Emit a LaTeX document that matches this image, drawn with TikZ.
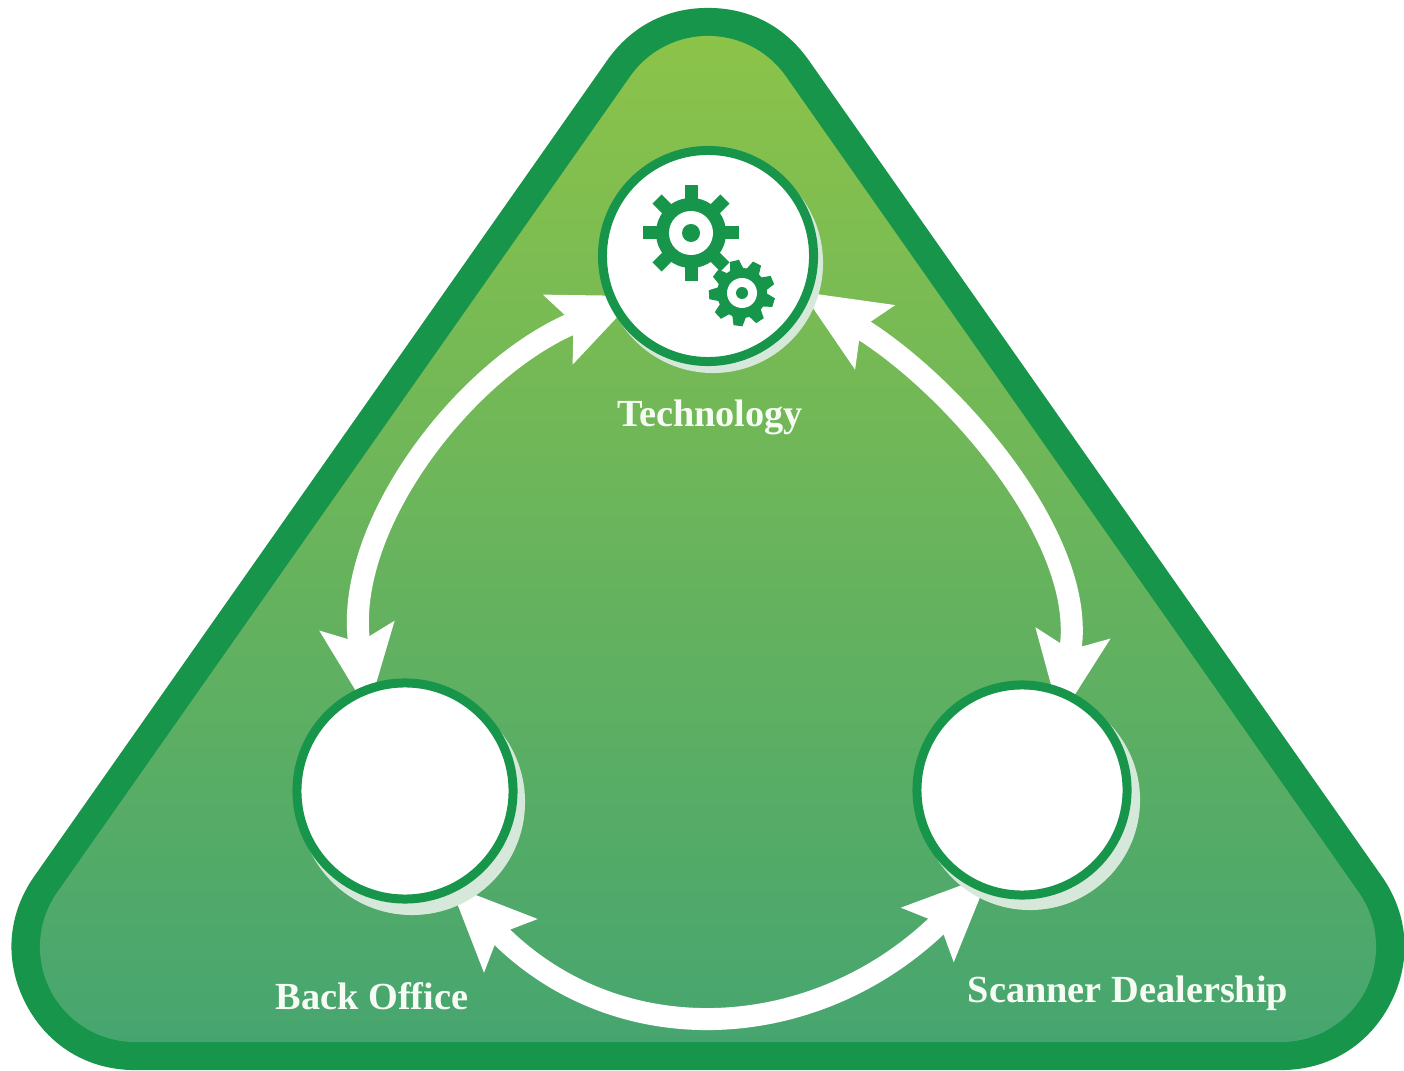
\documentclass[tikz,border=0pt]{standalone}
\usepackage{fontspec}
\setmainfont{Liberation Serif}
\usetikzlibrary{arrows.meta}
\definecolor{rimgreen}{HTML}{17954A}
\definecolor{topgreen}{HTML}{8CC349}
\definecolor{lowgreen}{HTML}{46A56F}
\definecolor{halo}{HTML}{D5E8DA}
\definecolor{labelwhite}{HTML}{F6FCF4}
\pgfdeclarelayer{bglayer}
\pgfdeclarelayer{arrowlayer}
\pgfsetlayers{bglayer,arrowlayer,main}
\tikzset{
  disc/.style={circle,draw=rimgreen,fill=white,line width=0.09cm,inner sep=0pt,outer sep=0pt},
  flow/.style={draw=white,line width=0.22cm,
    {Stealth[length=0.86cm,width=0.76cm,inset=0.17cm,line width=0pt]}-{Stealth[length=0.86cm,width=0.76cm,inset=0.17cm,line width=0pt]}},
  caption/.style={text=labelwhite,font=\fontsize{10.9pt}{13pt}\selectfont\bfseries,inner sep=0pt}
}
\begin{document}
\begin{tikzpicture}[x=0.01cm,y=-0.01cm]
\useasboundingbox (0,0) rectangle (1404,1071);
\begin{pgfonlayer}{bglayer}
  \fill[white] (0,0) rectangle (1404,1071);
  \draw[rimgreen,fill=rimgreen,line width=2.46cm,line join=round]
    (708,131) -- (1281,947) -- (135,947) -- cycle;
  \shade[top color=topgreen,bottom color=lowgreen]
    (630.3,76.3) arc[start angle=144.86,end angle=35.14,radius=0.95cm]
    -- (1358.7,892.3) arc[start angle=35.14,end angle=-90,radius=0.95cm]
    -- (135,1042) arc[start angle=-90,end angle=-215.14,radius=0.95cm]
    -- cycle;
\end{pgfonlayer}

\fill[halo] (713,263) circle[radius=1.10cm];
\fill[halo] (412,802) circle[radius=1.13cm];
\fill[halo] (1030,800) circle[radius=1.10cm];

\node[disc,minimum size=2.11cm] (tech) at (708,256) {};
\node[disc,minimum size=2.16cm] (back) at (405,791) {};
\node[disc,minimum size=2.10cm] (scan) at (1022,790) {};

\node[caption] (techlabel) at (710,417) {Technology};
\node[caption] (backlabel) at (372,996) {Back Office};
\node[caption] (scanlabel) at (1128,993) {Scanner Dealership};

% arrow ends lie under the discs
\coordinate (techW) at ([xshift=-0.71cm,yshift=-0.40cm]tech.center);
\coordinate (techE) at ([xshift=0.94cm,yshift=-0.36cm]tech.center);
\coordinate (backN) at ([xshift=-0.37cm,yshift=0.80cm]back.center);
\coordinate (backE) at ([xshift=0.45cm,yshift=-0.94cm]back.center);
\coordinate (scanN) at ([xshift=0.38cm,yshift=0.72cm]scan.center);
\coordinate (scanW) at ([xshift=-0.33cm,yshift=-0.85cm]scan.center);

\begin{pgfonlayer}{arrowlayer}
  \draw[flow] (backN) .. controls (344,526) and (465,369) .. (techW);
  \draw[flow] (techE) .. controls (955,387) and (1087,540) .. (scanN);
  \draw[flow] (backE) .. controls (620,1055) and (816,1043) .. (scanW);
\end{pgfonlayer}

% large gear
\begin{scope}[shift={(691,233)}]
  \foreach \a in {0,45,...,315}
    \fill[rimgreen,rotate=\a] (25,-6.5) -- (48,-6.5) -- (48,6.5) -- (25,6.5) -- cycle;
  \fill[rimgreen] (0,0) circle[radius=0.35cm];
  \fill[white] (0,0) circle[radius=0.22cm];
  \fill[rimgreen] (0,0) circle[radius=0.09cm];
\end{scope}
% small gear
\begin{scope}[shift={(742,293)}]
  \foreach \a in {0,...,8}
    \fill[rimgreen,rotate=63+40*\a] (19,-8) -- (33,-4.5) -- (33,4.5) -- (19,8) -- cycle;
  \fill[rimgreen] (0,0) circle[radius=0.25cm];
  \fill[white] (0,0) circle[radius=0.15cm];
  \fill[rimgreen] (0,0) circle[radius=0.06cm];
\end{scope}
\end{tikzpicture}
\end{document}
